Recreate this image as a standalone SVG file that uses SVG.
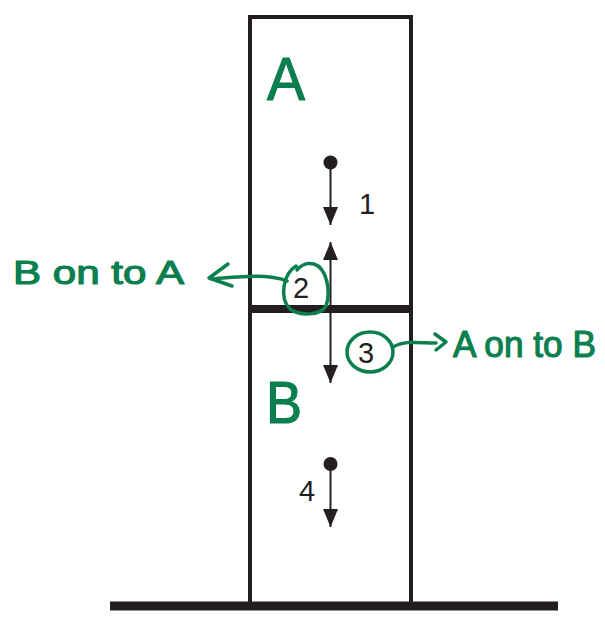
<svg xmlns="http://www.w3.org/2000/svg" width="605" height="619" viewBox="0 0 605 619">
  <defs>
    <style>
      .wall { fill: none; stroke: #231f20; stroke-width: 4; }
      .bar { stroke: #231f20; stroke-linecap: butt; }
      .vec { stroke: #231f20; stroke-width: 2; fill: none; }
      .num { font-family: "Liberation Sans", Arial, sans-serif; font-size: 29px; fill: #231f20; }
      .ink { fill: none; stroke: #0b7f4f; stroke-width: 3.5; stroke-linecap: round; stroke-linejoin: round; }
      .hand { font-family: "Liberation Sans", Arial, sans-serif; fill: #0b7f4f; stroke: #0b7f4f; stroke-width: 1.2; stroke-linejoin: round; }
    </style>
    <marker id="head" viewBox="0 0 18 15" refX="18" refY="7.5" markerWidth="18" markerHeight="15" markerUnits="userSpaceOnUse" orient="auto">
      <path d="M0,0 L18,7.5 L0,15 Z" fill="#231f20"/>
    </marker>
  </defs>
  <rect width="605" height="619" fill="#ffffff"/>

  <g id="column">
    <rect class="wall" x="250" y="17" width="161" height="589"/>
  </g>
  <g id="divider">
    <line class="bar" x1="250" y1="309" x2="411" y2="309" stroke-width="8"/>
  </g>
  <g id="ground">
    <line class="bar" x1="110" y1="606" x2="558" y2="606" stroke-width="9"/>
  </g>

  <g id="label-A">
    <text class="hand" x="267" y="100" font-size="62" textLength="38" lengthAdjust="spacingAndGlyphs">A</text>
  </g>
  <g id="label-B">
    <text class="hand" x="266" y="423" font-size="60" textLength="36" lengthAdjust="spacingAndGlyphs">B</text>
  </g>

  <g id="connectors">
    <circle cx="330.5" cy="162.5" r="7" fill="#231f20"/>
    <line class="vec" x1="330.5" y1="162" x2="330.5" y2="225" marker-end="url(#head)"/>
    <line class="vec" x1="330.5" y1="309" x2="330.5" y2="242" marker-end="url(#head)"/>
    <line class="vec" x1="330.5" y1="309" x2="330.5" y2="383" marker-end="url(#head)"/>
    <circle cx="330.5" cy="464" r="7" fill="#231f20"/>
    <line class="vec" x1="330.5" y1="464" x2="330.5" y2="527" marker-end="url(#head)"/>
  </g>

  <g id="force-1">
    <text class="num" x="359" y="214">1</text>
  </g>
  <g id="force-2">
    <text class="num" x="293" y="298">2</text>
    <path class="ink" d="M296,266 C283,274 279,298 290,309 C300,316 320,316 326,306 C331,292 327,268 314,264 C306,262 300,266 297,270"/>
    <path class="ink" d="M287,281 C270,274 245,276 212,279"/>
    <path class="ink" d="M228,264 L209,278 L232,286"/>
    <text class="hand" x="13" y="284" font-size="34" textLength="171" lengthAdjust="spacingAndGlyphs">B on to A</text>
  </g>
  <g id="force-3">
    <text class="num" x="358" y="363">3</text>
    <ellipse class="ink" cx="370" cy="352" rx="23" ry="20"/>
    <path class="ink" d="M393,347 C405,340 420,343 436,343"/>
    <path class="ink" d="M435,334 L446,342 L436,350"/>
    <text class="hand" x="453" y="357" font-size="36" textLength="143" lengthAdjust="spacingAndGlyphs">A on to B</text>
  </g>
  <g id="force-4">
    <text class="num" x="299" y="501">4</text>
  </g>
</svg>
